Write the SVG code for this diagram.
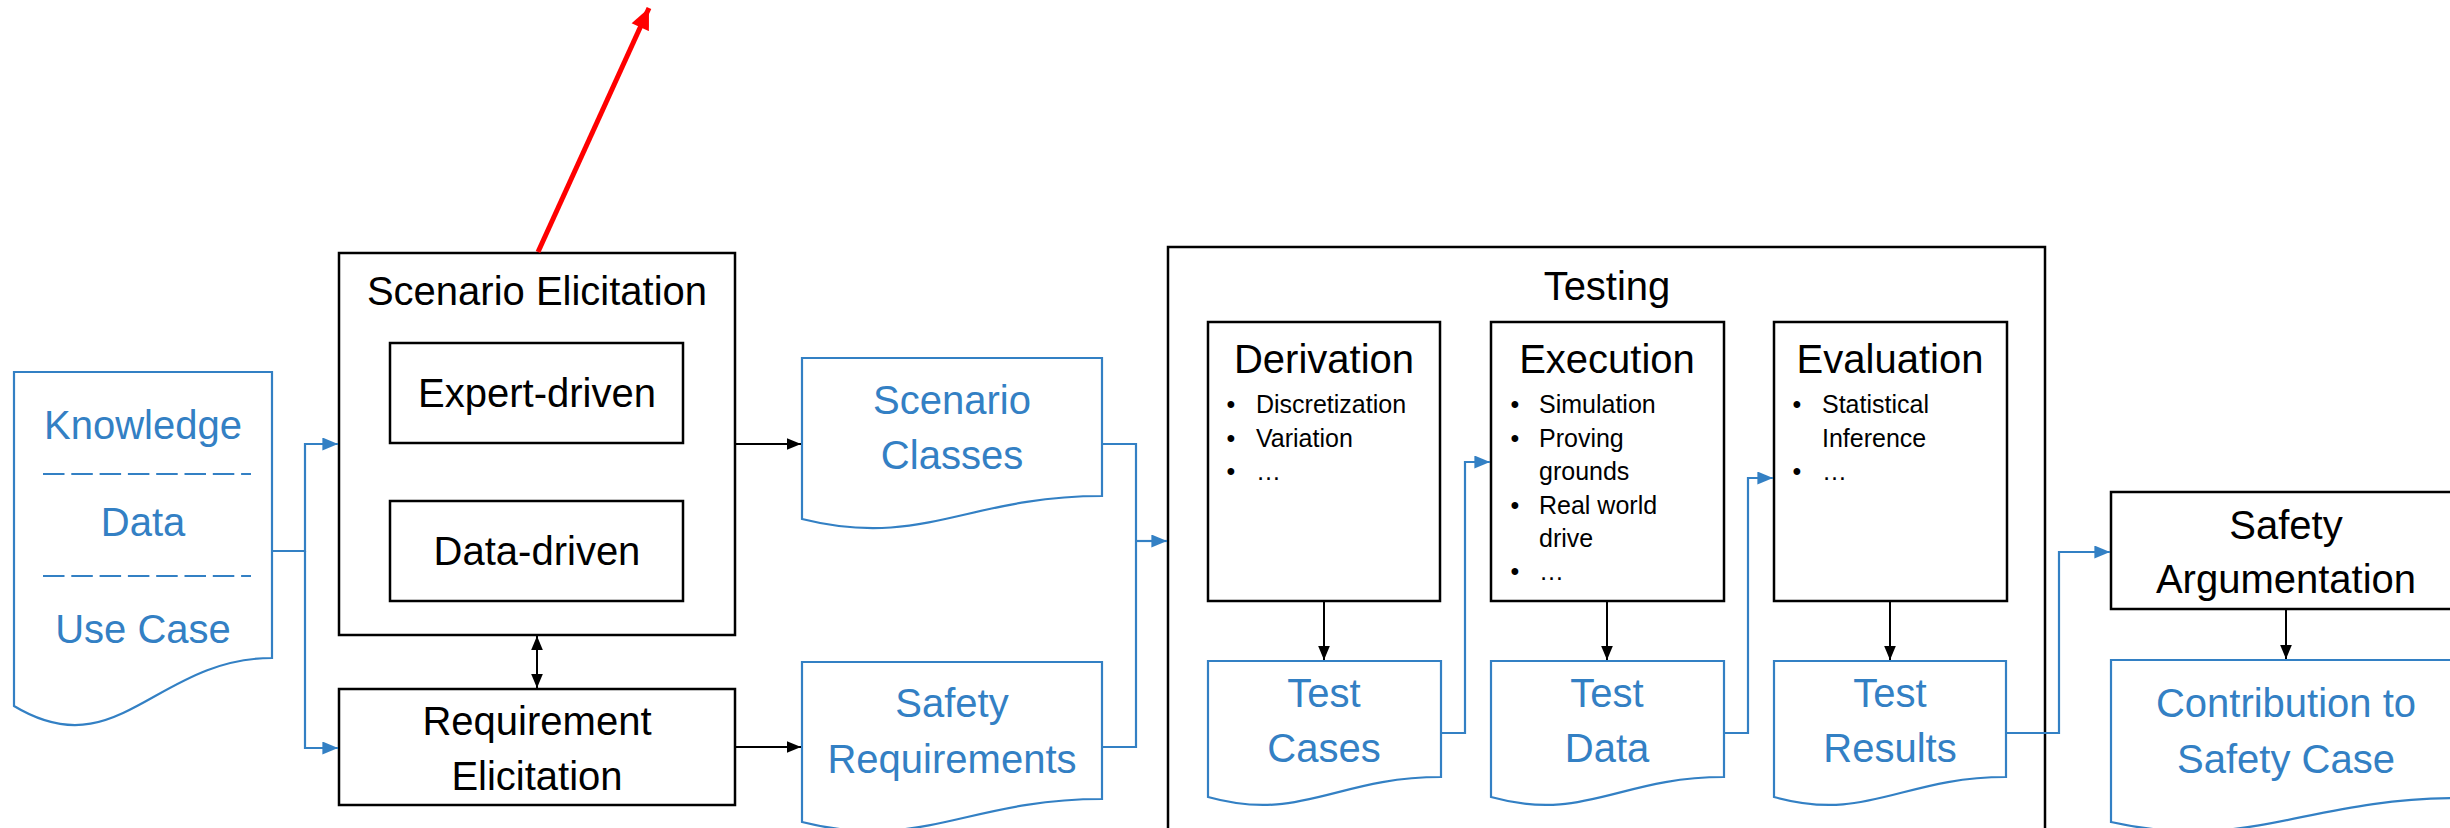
<svg xmlns="http://www.w3.org/2000/svg" width="2450" height="828" viewBox="0 0 2450 828">
<style>
.box{fill:#fff;stroke:#000;stroke-width:2.5}
.doc{fill:#fff;stroke:#3380C4;stroke-width:2.2}
.t{font-family:"Liberation Sans",Arial,sans-serif;font-size:40px;fill:#000;text-anchor:middle}
.tb{font-family:"Liberation Sans",Arial,sans-serif;font-size:40px;fill:#3380C4;text-anchor:middle}
.s{font-family:"Liberation Sans",Arial,sans-serif;font-size:25px;fill:#000}
.bl{text-anchor:middle}
.ck{fill:none;stroke:#000;stroke-width:2}
.cb{fill:none;stroke:#3380C4;stroke-width:2.2}
.dash{stroke:#3380C4;stroke-width:2.2;stroke-dasharray:21.5 6.8}
</style>
<defs>
<marker id="ak" viewBox="0 0 12 10" refX="12" refY="5" markerWidth="14" markerHeight="12" markerUnits="userSpaceOnUse" orient="auto-start-reverse"><path d="M0,0 L12,5 L0,10 z" fill="#000"/></marker>
<marker id="ab" viewBox="0 0 12 10" refX="12" refY="5" markerWidth="16" markerHeight="13" markerUnits="userSpaceOnUse" orient="auto"><path d="M0,0 L12,5 L0,10 z" fill="#3380C4"/></marker>
<marker id="ar" viewBox="0 0 20 18" refX="20" refY="9" markerWidth="22" markerHeight="19" markerUnits="userSpaceOnUse" orient="auto"><path d="M0,0 L20,9 L0,18 z" fill="#FF0000"/></marker>
</defs>

<g id="knowledge">
<path class="doc" d="M14,372 H272 V658 C155.9,658 117.2,768.4 14,706 Z"/>
<text class="tb" x="143" y="439">Knowledge</text>
<line class="dash" x1="43" y1="474" x2="251" y2="474"/>
<text class="tb" x="143" y="536">Data</text>
<line class="dash" x1="43" y1="576" x2="251" y2="576"/>
<text class="tb" x="143" y="643">Use Case</text>
</g>

<g id="scenario-elicitation">
<rect class="box" x="339" y="253" width="396" height="382"/>
<text class="t" x="537" y="305">Scenario Elicitation</text>
</g>
<g id="expert-driven">
<rect class="box" x="390" y="343" width="293" height="100"/>
<text class="t" x="537" y="407">Expert-driven</text>
</g>
<g id="data-driven">
<rect class="box" x="390" y="501" width="293" height="100"/>
<text class="t" x="537" y="565">Data-driven</text>
</g>

<g id="requirement-elicitation">
<rect class="box" x="339" y="689" width="396" height="116"/>
<text class="t" x="537" y="735">Requirement</text>
<text class="t" x="537" y="790">Elicitation</text>
</g>

<g id="scenario-classes">
<path class="doc" d="M802,358 H1102 V496 C967,496 922,549 802,519 Z"/>
<text class="tb" x="952" y="414">Scenario</text>
<text class="tb" x="952" y="469">Classes</text>
</g>

<g id="safety-requirements">
<path class="doc" d="M802,662 H1102 V799 C967,799 922,852 802,822 Z"/>
<text class="tb" x="952" y="717">Safety</text>
<text class="tb" x="952" y="773">Requirements</text>
</g>

<g id="testing">
<rect class="box" x="1168" y="247" width="877" height="600"/>
<text class="t" x="1607" y="300">Testing</text>
</g>

<g id="derivation">
<rect class="box" x="1208" y="322" width="232" height="279"/>
<text class="t" x="1324" y="373">Derivation</text>
<text class="s bl" x="1231" y="413">•</text><text class="s" x="1256" y="413">Discretization</text>
<text class="s bl" x="1231" y="447">•</text><text class="s" x="1256" y="447">Variation</text>
<text class="s bl" x="1231" y="480">•</text><text class="s" x="1256" y="480">…</text>
</g>

<g id="execution">
<rect class="box" x="1491" y="322" width="233" height="279"/>
<text class="t" x="1607" y="373">Execution</text>
<text class="s bl" x="1515" y="413">•</text><text class="s" x="1539" y="413">Simulation</text>
<text class="s bl" x="1515" y="447">•</text><text class="s" x="1539" y="447">Proving</text>
<text class="s" x="1539" y="480">grounds</text>
<text class="s bl" x="1515" y="514">•</text><text class="s" x="1539" y="514">Real world</text>
<text class="s" x="1539" y="547">drive</text>
<text class="s bl" x="1515" y="580">•</text><text class="s" x="1539" y="580">…</text>
</g>

<g id="evaluation">
<rect class="box" x="1774" y="322" width="233" height="279"/>
<text class="t" x="1890" y="373">Evaluation</text>
<text class="s bl" x="1797" y="413">•</text><text class="s" x="1822" y="413">Statistical</text>
<text class="s" x="1822" y="447">Inference</text>
<text class="s bl" x="1797" y="480">•</text><text class="s" x="1822" y="480">…</text>
</g>

<g id="test-cases">
<path class="doc" d="M1208,661 H1441 V777 C1336,777 1301,823 1208,797 Z"/>
<text class="tb" x="1324" y="707">Test</text>
<text class="tb" x="1324" y="762">Cases</text>
</g>
<g id="test-data">
<path class="doc" d="M1491,661 H1724 V777 C1619,777 1584,823 1491,797 Z"/>
<text class="tb" x="1607" y="707">Test</text>
<text class="tb" x="1607" y="762">Data</text>
</g>
<g id="test-results">
<path class="doc" d="M1774,661 H2006 V777 C1902,777 1867,823 1774,797 Z"/>
<text class="tb" x="1890" y="707">Test</text>
<text class="tb" x="1890" y="762">Results</text>
</g>

<g id="safety-argumentation">
<rect class="box" x="2111" y="492" width="360" height="117"/>
<text class="t" x="2286" y="539">Safety</text>
<text class="t" x="2286" y="593">Argumentation</text>
</g>

<g id="contribution">
<path class="doc" d="M2111,660 H2461 V798 C2303.5,798 2251,853 2111,822 Z"/>
<text class="tb" x="2286" y="717">Contribution to</text>
<text class="tb" x="2286" y="773">Safety Case</text>
</g>

<g id="connectors">
<path class="cb" d="M272,551 H305 V444 H338" marker-end="url(#ab)"/>
<path class="cb" d="M305,551 V748 H338" marker-end="url(#ab)"/>
<path class="ck" d="M735,444 H801" marker-end="url(#ak)"/>
<path class="ck" d="M537,636 V688" marker-start="url(#ak)" marker-end="url(#ak)"/>
<path class="ck" d="M735,747 H801" marker-end="url(#ak)"/>
<path class="cb" d="M1102,444 H1136 V747 H1102"/>
<path class="cb" d="M1136,541 H1167" marker-end="url(#ab)"/>
<path class="ck" d="M1324,601 V660" marker-end="url(#ak)"/>
<path class="ck" d="M1607,601 V660" marker-end="url(#ak)"/>
<path class="ck" d="M1890,601 V660" marker-end="url(#ak)"/>
<path class="cb" d="M1441,733 H1465 V462 H1490" marker-end="url(#ab)"/>
<path class="cb" d="M1724,733 H1748 V478 H1773" marker-end="url(#ab)"/>
<path class="cb" d="M2006,733 H2059 V552 H2110" marker-end="url(#ab)"/>
<path class="ck" d="M2286,609 V659" marker-end="url(#ak)"/>
<path d="M538,252 L649,8" fill="none" stroke="#FF0000" stroke-width="5" marker-end="url(#ar)"/>
</g>
</svg>
